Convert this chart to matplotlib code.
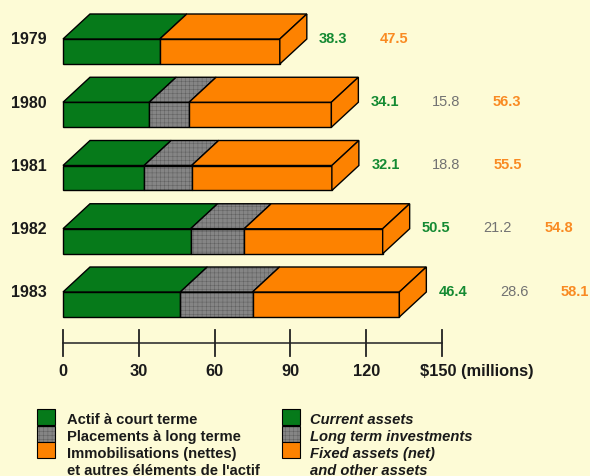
import numpy as np
import matplotlib
matplotlib.use("Agg")
import matplotlib.pyplot as plt
from matplotlib.patches import Polygon, Rectangle

plt.rcParams['font.family'] = ['Liberation Sans', 'DejaVu Sans']
plt.rcParams['hatch.linewidth'] = 0.35

years = ['1979', '1980', '1981', '1982', '1983']
current = [38.3, 34.1, 32.1, 50.5, 46.4]
long_term = [0.0, 15.8, 18.8, 21.2, 28.6]
fixed = [47.5, 56.3, 55.5, 54.8, 58.1]
ticks = [0, 30, 60, 90, 120, 150]
tick_labels = ['0', '30', '60', '90', '120', '$150 (millions)']

legend_fr = ['Actif à court terme', 'Placements à long terme',
             'Immobilisations (nettes)', "et autres éléments de l'actif"]
legend_en = ['Current assets', 'Long term investments',
             'Fixed assets (net)', 'and other assets']

BG = '#fdfbd6'
GREEN = '#067a1a'
GREY = '#858585'
ORANGE = '#fd8200'
TXT_GREEN = '#148a32'
TXT_GREY = '#727272'
TXT_ORANGE = '#f98a22'

# layout: 2.527 px per million, 63.25 px between rows, origin at (63, 40) px
XPX, YPX = 2.527, 63.25
X0, Y0 = 63, 40
W, H = 590, 477


def px2x(p):
    return (p - X0) / XPX


def px2y(p):
    return (p - Y0) / YPX


fig = plt.figure(figsize=(W / 100, H / 100), dpi=100, facecolor=BG)
ax = fig.add_axes([0, 0, 1, 1])
ax.set_facecolor(BG)
ax.set_xlim(px2x(0), px2x(W))
ax.set_ylim(px2y(H), px2y(0))
ax.axis('off')

h = 25 / YPX       # front face height
dy = 25 / YPX      # depth, vertical
dx = 27 / XPX      # depth, horizontal


def face(pts, color, textured=False, z=2):
    if textured:
        # fine screen texture first, then the black outline on top
        ax.add_patch(Polygon(pts, closed=True, facecolor=color,
                             edgecolor='#606060', lw=0, hatch='++++', zorder=z))
        ax.add_patch(Polygon(pts, closed=True, fill=False, edgecolor='black',
                             lw=1.0, zorder=z, joinstyle='miter'))
    else:
        ax.add_patch(Polygon(pts, closed=True, facecolor=color,
                             edgecolor='black', lw=1.0, zorder=z,
                             joinstyle='miter'))


for i, yr in enumerate(years):
    segs = [(current[i], GREEN, False), (long_term[i], GREY, True),
            (fixed[i], ORANGE, False)]
    left = 0.0
    for val, col, tex in segs:
        if val <= 0:
            continue
        right = left + val
        # front
        face([(left, i), (right, i), (right, i + h), (left, i + h)], col, tex)
        # top
        face([(left, i), (right, i), (right + dx, i - dy), (left + dx, i - dy)],
             col, tex)
        left = right
    # right end
    face([(left, i), (left + dx, i - dy), (left + dx, i - dy + h), (left, i + h)],
         ORANGE)

    ax.text(px2x(29), i, yr, ha='center', va='center', fontsize=11.5,
            fontweight='bold', color='#1a1a1a')

    vals = [(current[i], TXT_GREEN, 'bold'), (long_term[i], TXT_GREY, 'normal'),
            (fixed[i], TXT_ORANGE, 'bold')]
    vals = [v for v in vals if v[0] > 0]
    xs = left + dx + 10.5
    for k, (v, c, wgt) in enumerate(vals):
        ax.text(xs + 24.2 * k, i - 0.02, f'{v:.1f}', ha='center', va='center',
                fontsize=10.5, color=c, fontweight=wgt)

# value axis
ya = px2y(344)
ax.plot([0, 150], [ya, ya], color='#333333', lw=1.2, zorder=1)
tl = 13 / YPX
for t, lab in zip(ticks, tick_labels):
    ax.plot([t, t], [ya - tl, ya + tl], color='#222222', lw=1.3)
    if t == 150:
        ax.text(px2x(420), px2y(372), lab, ha='left', va='center',
                fontsize=11.8, fontweight='bold', color='#1a1a1a')
    else:
        ax.text(t, px2y(372), lab, ha='center', va='center',
                fontsize=11.8, fontweight='bold', color='#1a1a1a')

# legend
sw_tops = [410, 427, 443]
sw_cols = [GREEN, GREY, ORANGE]
sw_tex = [False, True, False]
for col_x, txt_x, labels, style in [(37, 67, legend_fr, 'normal'),
                                    (282, 310, legend_en, 'italic')]:
    for top, c, tex in zip(sw_tops, sw_cols, sw_tex):
        x0, x1 = px2x(col_x), px2x(col_x + 18)
        y0, y1 = px2y(top), px2y(top + 16)
        if tex:
            ax.add_patch(Rectangle((x0, y0), x1 - x0, y1 - y0, facecolor=c,
                                   edgecolor='#606060', lw=0, hatch='++++'))
            ax.add_patch(Rectangle((x0, y0), x1 - x0, y1 - y0, fill=False,
                                   edgecolor='black', lw=0.8))
        else:
            ax.add_patch(Rectangle((x0, y0), x1 - x0, y1 - y0, facecolor=c,
                                   edgecolor='black', lw=0.8))
    for ly, lab in zip([420, 437, 454, 471], labels):
        ax.text(px2x(txt_x), px2y(ly), lab, ha='left', va='center',
                fontsize=10.6, fontweight='bold', style=style, color='#1a1a1a')

fig.savefig('out.png', dpi=100, facecolor=BG)
